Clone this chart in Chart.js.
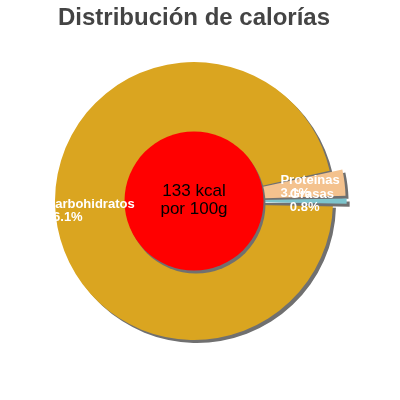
<!DOCTYPE html>
<html lang="es">
<head>
  <meta charset="UTF-8">
  <title>Distribución de calorías</title>
  <script src="https://cdn.jsdelivr.net/npm/chart.js"></script>
  <style>
    html, body { margin: 0; padding: 0; background: #fff; }
    .chart-box { width: 400px; height: 400px; }
  </style>
</head>
<body>
  <div class="chart-box">
    <canvas id="pieCalorias" width="400" height="400"></canvas>
  </div>

  <script>
    // Datos
    const categorias = ['Carbohidratos', 'Proteinas', 'Grasas'];
    const porcentajes = [96.1, 3.1, 0.8];
    const colores = ['#DAA520', '#F4C28E', '#7DC4CC'];
    const separacion = [0, 28, 28];
    const textoCentro = ['133 kcal', 'por 100g'];

    const fuente = "'Liberation Sans', Arial, sans-serif";

    // Sombra gris bajo las porciones
    const sombra = {
      id: 'sombra',
      beforeDatasetDraw(chart) {
        const ctx = chart.ctx;
        ctx.save();
        ctx.shadowColor = '#707070';
        ctx.shadowOffsetX = 3;
        ctx.shadowOffsetY = 3;
        ctx.shadowBlur = 0;
      },
      afterDatasetDraw(chart) {
        chart.ctx.restore();
      }
    };

    // Círculo rojo central, texto y etiquetas de las porciones
    const centroYEtiquetas = {
      id: 'centroYEtiquetas',
      afterDatasetsDraw(chart) {
        const ctx = chart.ctx;
        const arcs = chart.getDatasetMeta(0).data;
        const base = arcs[0];
        const R = base.outerRadius;

        ctx.save();
        ctx.shadowColor = '#707070';
        ctx.shadowOffsetX = 2;
        ctx.shadowOffsetY = 3;
        ctx.beginPath();
        ctx.arc(base.x, base.y, R * 0.5, 0, Math.PI * 2);
        ctx.fillStyle = '#FF0000';
        ctx.fill();
        ctx.restore();

        ctx.save();
        ctx.fillStyle = '#000';
        ctx.font = '17px ' + fuente;
        ctx.textAlign = 'center';
        ctx.textBaseline = 'middle';
        ctx.fillText(textoCentro[0], base.x, base.y - 10);
        ctx.fillText(textoCentro[1], base.x, base.y + 8);
        ctx.restore();

        ctx.save();
        ctx.fillStyle = '#fff';
        ctx.font = 'bold 13px ' + fuente;
        ctx.textAlign = 'left';
        ctx.textBaseline = 'middle';
        arcs.forEach((arc, i) => {
          const mid = (arc.startAngle + arc.endAngle) / 2;
          const circ = arc.endAngle - arc.startAngle;
          const off = (arc.options.offset || 0) / 4;
          const t = off * (2 - Math.sin(Math.min(Math.PI, circ)));
          const cx = arc.x + Math.cos(mid) * (t + 0.75 * R);
          const cy = arc.y + Math.sin(mid) * (t + 0.75 * R);
          const lineas = [categorias[i], porcentajes[i].toFixed(1) + '%'];
          const ancho = Math.max(...lineas.map(l => ctx.measureText(l).width));
          const x0 = cx - ancho / 2;
          ctx.fillText(lineas[0], x0, cy - 6.5);
          ctx.fillText(lineas[1], x0, cy + 6.5);
        });
        ctx.restore();
      }
    };

    new Chart(document.getElementById('pieCalorias'), {
      type: 'pie',
      data: {
        labels: categorias,
        datasets: [{
          data: porcentajes,
          backgroundColor: colores,
          borderWidth: 0,
          offset: separacion
        }]
      },
      options: {
        responsive: false,
        animation: false,
        rotation: 91.5,
        radius: 139,
        layout: { padding: { left: 0, right: 12, top: 0, bottom: 40.8 } },
        plugins: {
          legend: { display: false },
          tooltip: { enabled: false },
          title: {
            display: true,
            text: 'Distribución de calorías',
            color: '#444444',
            padding: { top: 4, bottom: 10 },
            font: { family: fuente, size: 24, weight: 'bold' }
          }
        }
      },
      plugins: [sombra, centroYEtiquetas]
    });
  </script>
</body>
</html>
